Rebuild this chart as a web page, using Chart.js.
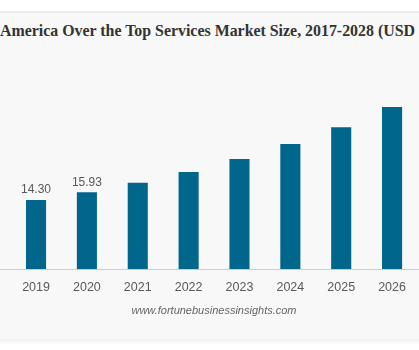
<!DOCTYPE html>
<html>
<head>
<meta charset="utf-8">
<script src="https://cdn.jsdelivr.net/npm/chart.js@4.4.1/dist/chart.umd.min.js"></script>
<style>
  html, body { margin: 0; padding: 0; background: #fff; }
  body { width: 419px; height: 350px; position: relative; overflow: hidden; }
  .card {
    position: absolute; left: -10px; right: -10px; top: 11px; height: 326px;
    background: #f8f8f8;
    border-top: 2px solid #ececec;
    box-shadow: 0 3px 4px rgba(0, 0, 0, 0.06);
  }
  .title {
    position: absolute; left: 0; top: 21px; white-space: nowrap;
    font: bold 15.9px/19px "Liberation Serif", "Times New Roman", serif; color: #333;
  }
  .wrap { position: absolute; left: 0; top: 0; width: 419px; height: 350px; }
  .source {
    position: absolute; left: 9px; right: 0; top: 304px;
    text-align: center; font: italic 11px Arial, "Liberation Sans", sans-serif; color: #666;
  }
</style>
</head>
<body>
<div class="card"></div>
<div class="title">America Over the Top Services Market Size, 2017-2028 (USD</div>
<div class="wrap"><canvas id="chartMarket" width="419" height="350"></canvas></div>
<div class="source">www.fortunebusinessinsights.com</div>
<script>
/* ── Data ─────────────────────────────────────────── */
const years = ['2019', '2020', '2021', '2022', '2023', '2024', '2025', '2026'];
const marketSize = [14.30, 15.93, 17.88, 20.14, 22.82, 25.92, 29.42, 33.60];
const labelled = ['14.30', '15.93', null, null, null, null, null, null];

const ChartColors = {
  bar: '#00668b',
  text: '#595959',
  axis: '#cccccc',
};

// value labels above the first bars + full-width base line
const extrasPlugin = {
  id: 'extras',
  afterDatasetsDraw(chart) {
    const { ctx, scales } = chart;
    const y0 = scales.y.getPixelForValue(0);
    ctx.save();
    ctx.strokeStyle = ChartColors.axis;
    ctx.lineWidth = 1;
    ctx.beginPath();
    ctx.moveTo(0, Math.round(y0) + 0.5);
    ctx.lineTo(chart.width, Math.round(y0) + 0.5);
    ctx.stroke();

    ctx.fillStyle = ChartColors.text;
    ctx.font = '12px Arial, "Liberation Sans", sans-serif';
    ctx.textAlign = 'center';
    ctx.textBaseline = 'bottom';
    chart.getDatasetMeta(0).data.forEach((bar, i) => {
      if (!labelled[i]) return;
      ctx.fillText(labelled[i], bar.x, bar.y - 4);
    });
    ctx.restore();
  },
};

new Chart(document.getElementById('chartMarket'), {
  type: 'bar',
  data: {
    labels: years,
    datasets: [{
      data: marketSize,
      backgroundColor: ChartColors.bar,
      categoryPercentage: 1,
      barPercentage: 0.395,
    }],
  },
  options: {
    responsive: false,
    animation: false,
    layout: { padding: { left: 10.6, right: 1.5, top: 100.25, bottom: 44 } },
    plugins: {
      legend: { display: false },
      tooltip: { enabled: false },
      title: { display: false },
    },
    scales: {
      x: {
        grid: { display: false, drawTicks: false },
        border: { display: false },
        ticks: {
          color: ChartColors.text,
          padding: 11,
          font: { family: 'Arial, "Liberation Sans", sans-serif', size: 12.5 },
        },
      },
      y: {
        display: false,
        min: 0,
        max: 35,
      },
    },
  },
  plugins: [extrasPlugin],
});
</script>
</body>
</html>
